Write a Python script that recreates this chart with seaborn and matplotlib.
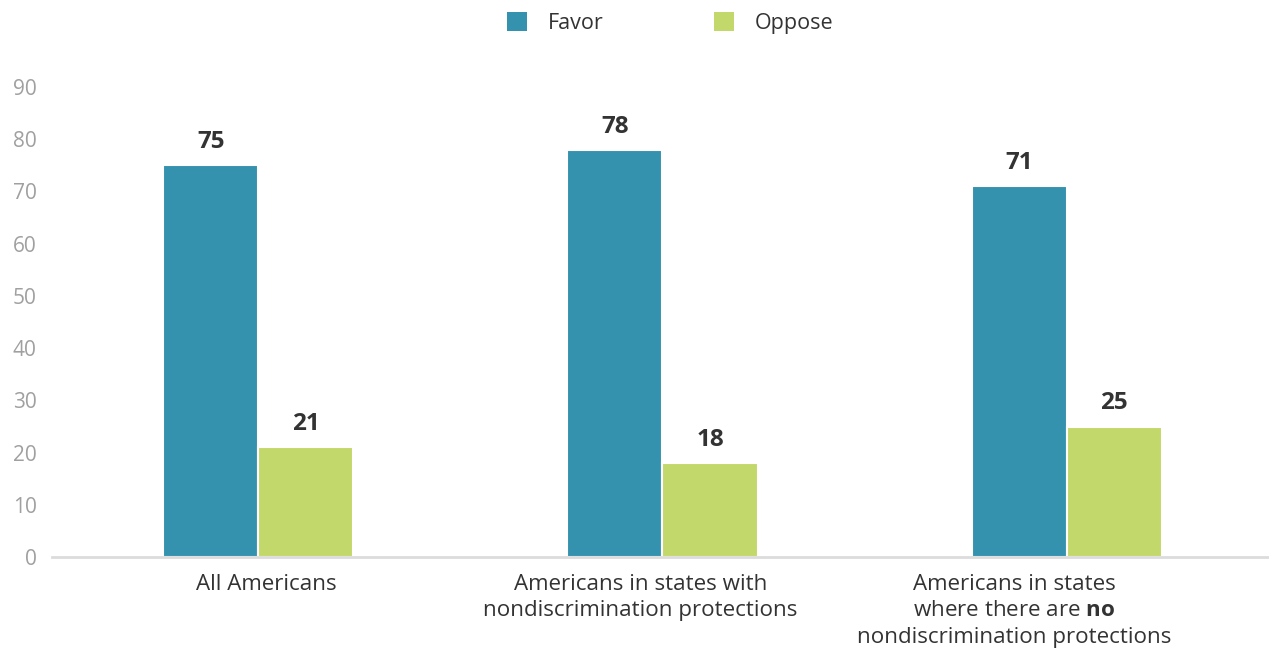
import matplotlib
matplotlib.use("Agg")
import matplotlib.pyplot as plt
import matplotlib.transforms as mtrans
import seaborn as sns
import pandas as pd
from matplotlib.patches import Patch

categories = [
    "All Americans",
    "Americans in states with\nnondiscrimination protections",
    "Americans in states\nwhere there are $\\mathbf{no}$\nnondiscrimination protections",
]
favor = [75, 78, 71]
oppose = [21, 18, 25]
series = ["Favor", "Oppose"]
colors = ["#3492AF", "#C3D86A"]
yticks = [0, 10, 20, 30, 40, 50, 60, 70, 80, 90]

sns.set_theme(style="white")
plt.rcParams["font.family"] = ["Open Sans", "DejaVu Sans"]
plt.rcParams["mathtext.fontset"] = "custom"
plt.rcParams["mathtext.rm"] = "Open Sans"
plt.rcParams["mathtext.bf"] = "Open Sans:bold"

df = pd.DataFrame({
    "category": categories * 2,
    "series": [series[0]] * 3 + [series[1]] * 3,
    "value": favor + oppose,
})

fig = plt.figure(figsize=(12.69, 6.54), dpi=100)
ax = fig.add_axes([0.0441, 0.148, 0.9559, 0.719])
sns.barplot(data=df, x="category", y="value", hue="series", palette=colors,
            width=0.47, ax=ax, saturation=1, legend=False, edgecolor="white", linewidth=1.5)

for cont in ax.containers:
    ax.bar_label(cont, padding=8, fontsize=17.5, fontweight="bold", color="#333333")

ax.set_xlim(-0.5, 2.5)
ax.set_ylim(0, 90)
ax.set_yticks(yticks)
ax.tick_params(axis="y", labelsize=15, colors="#a0a0a0", length=0, pad=14)
ax.tick_params(axis="x", labelsize=16.1, colors="#333333", length=0, pad=12)
ax.set_xlabel("")
ax.set_ylabel("")
for s in ["top", "right", "left"]:
    ax.spines[s].set_visible(False)
ax.spines["bottom"].set_color("#dcdcdc")
ax.spines["bottom"].set_linewidth(2)
ax.spines["bottom"].set_bounds(-0.51, 2.5)

# horizontal offsets of category labels (in points) relative to group centres
label_shift_pts = [6, -16, -38]
for lbl, dx in zip(ax.get_xticklabels(), label_shift_pts):
    lbl.set_linespacing(1.34)
    lbl.set_transform(lbl.get_transform() + mtrans.ScaledTranslation(dx / 72, 0, fig.dpi_scale_trans))

handles = [Patch(facecolor=c, edgecolor="none") for c in colors]
fig.legend(handles, series, loc="upper center", bbox_to_anchor=(0.528, 1.012), ncol=2,
           frameon=False, fontsize=15.5, handlelength=0.95, handleheight=1.0,
           columnspacing=5.15, handletextpad=0.95, labelcolor="#333333")

fig.savefig("out.png", dpi=100)
